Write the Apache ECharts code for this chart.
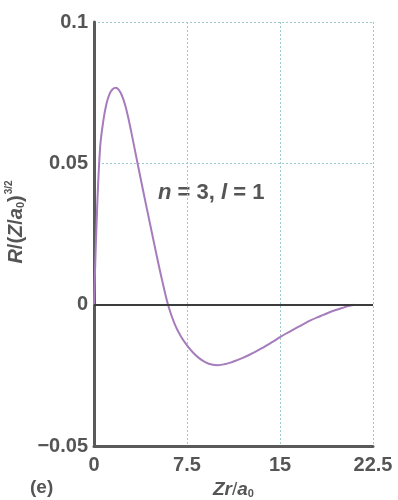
<!DOCTYPE html>
<html>
<head>
<meta charset="utf-8">
<script src="https://cdn.jsdelivr.net/npm/echarts@6/dist/echarts.min.js"></script>
<style>
  html, body { margin: 0; padding: 0; background: #fff; }
  #chart { width: 398px; height: 500px; }
</style>
</head>
<body>
<div id="chart"></div>
<script>
// Radial wavefunction, n = 3, l = 1, sampled along Zr/a0
const radius = [0, 0.25, 0.5, 0.75, 1, 1.25, 1.5, 1.75, 2, 2.25, 2.5, 2.75, 3, 3.5, 4, 4.5, 5, 5.5, 6, 6.5, 7, 7.5, 8, 8.5, 9, 9.5, 10,
  10.5, 11, 11.5, 12, 12.5, 13, 13.5, 14, 14.5, 15, 15.5, 16, 16.5, 17, 17.5, 18, 18.5, 19, 19.5, 20, 20.5, 21];
const amplitude = [0, 0.034, 0.056, 0.065, 0.071, 0.0745, 0.0762, 0.0767, 0.0760, 0.0740, 0.0708, 0.0664, 0.0612, 0.0503, 0.0395, 0.029, 0.0185, 0.0085, -0.0005,
  -0.0068, -0.0112, -0.0144, -0.0170, -0.0190, -0.0204, -0.0212, -0.0214,
  -0.0211, -0.0205, -0.0197, -0.0188, -0.0178, -0.0167, -0.0155, -0.0142, -0.0129, -0.0115, -0.0102, -0.0090,
  -0.0078, -0.0066, -0.0055, -0.0045, -0.0036, -0.0027, -0.0019, -0.0012, -0.0005, 0];
const xTickLabels = ['0', '7.5', '15', '22.5'];
const yTickLabels = ['\u22120.05', '0', '0.05', '0.1'];

const labelFont = 'Liberation Sans, Arial, sans-serif';
const textGrey = '#555';

const chart = echarts.init(document.getElementById('chart'), null, { renderer: 'canvas' });
chart.setOption({
  animation: false,
  backgroundColor: '#ffffff',
  grid: { left: 94, right: 25, top: 22, bottom: 54, containLabel: false, outerBoundsMode: 'none' },
  xAxis: {
    type: 'value',
    min: 0, max: 22.5, interval: 7.5,
    name: '{i|Zr}/{i|a}{s|0}',
    nameLocation: 'middle',
    nameGap: 29,
    nameTextStyle: {
      fontFamily: labelFont, fontSize: 19, color: textGrey,
      rich: {
        i: { fontFamily: labelFont, fontSize: 19, fontStyle: 'italic', fontWeight: 'bold', color: textGrey },
        s: { fontFamily: labelFont, fontSize: 11, fontWeight: 'bold', color: textGrey, padding: [10, 0, 0, 0] }
      }
    },
    axisLine: { onZero: false, lineStyle: { color: '#5a5a5a', width: 3 } },
    axisTick: { show: false },
    axisLabel: {
      margin: 9, fontFamily: labelFont, fontSize: 20, color: textGrey, fontWeight: 'bold',
      formatter: function (v) { return xTickLabels[Math.round(v / 7.5)]; }
    },
    splitLine: { show: true, lineStyle: { color: '#9ccaca', type: [2, 2], width: 1 } }
  },
  yAxis: {
    type: 'value',
    min: -0.05, max: 0.1, interval: 0.05,
    name: '{i|R}/({i|Z}/{i|a}{s|0}){p|3/2}',
    nameLocation: 'middle',
    nameRotate: 90,
    nameGap: 61,
    nameTextStyle: {
      fontFamily: labelFont, fontSize: 20, color: textGrey, fontWeight: 'bold',
      padding: [0, 0, 0, 24],
      rich: {
        i: { fontFamily: labelFont, fontSize: 20, fontStyle: 'italic', fontWeight: 'bold', color: textGrey },
        s: { fontFamily: labelFont, fontSize: 11, fontWeight: 'bold', color: textGrey, padding: [10, 0, 0, 0] },
        p: { fontFamily: labelFont, fontSize: 10, fontWeight: 'bold', color: textGrey, padding: [0, 0, 13, 1] }
      }
    },
    axisLine: { show: true, onZero: false, lineStyle: { color: '#5a5a5a', width: 3 } },
    axisTick: { show: false },
    axisLabel: {
      margin: 6, fontFamily: labelFont, fontSize: 20, color: textGrey, fontWeight: 'bold',
      formatter: function (v) { return yTickLabels[Math.round((v + 0.05) / 0.05)]; }
    },
    splitLine: { show: true, lineStyle: { color: '#9ccaca', type: [2, 2], width: 1 } }
  },
  series: [{
    type: 'line',
    data: radius.map((r, k) => [r, amplitude[k]]),
    smooth: 0.35,
    showSymbol: false,
    lineStyle: { color: '#a67cbd', width: 2 },
    markLine: {
      silent: true,
      symbol: 'none',
      label: { show: false },
      lineStyle: { color: '#3c3c3c', width: 2, type: 'solid' },
      data: [{ yAxis: 0 }]
    },
    z: 3
  }],
  graphic: [
    {
      type: 'text', left: 158, top: 182,
      style: {
        text: '{i|n} = 3, {i|l} = 1',
        font: 'bold 22px ' + labelFont, fill: textGrey,
        rich: { i: { fontFamily: labelFont, fontSize: 22, fontStyle: 'italic', fontWeight: 'bold', fill: textGrey } }
      }
    },
    {
      type: 'text', left: 30, top: 478,
      style: { text: '(e)', font: 'bold 19px ' + labelFont, fill: textGrey }
    }
  ]
});
</script>
</body>
</html>
